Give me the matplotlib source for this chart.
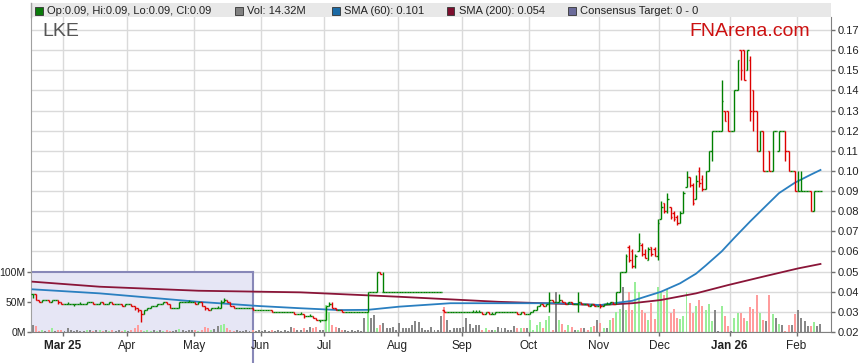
import numpy as np
import matplotlib.pyplot as plt
import matplotlib.transforms as mtransforms
from matplotlib.patches import Rectangle

# ---- data (prices in thousandths of a dollar, volume in millions) ----
opens = [39, 39, 36, 35, 36, 36, 35, 36, 36, 35,
         34, 34, 34, 34, 34, 34, 34, 34, 35, 35,
         34, 34, 35, 34, 34, 35, 34, 34, 34, 33,
         34, 34, 33, 32, 31, 29, 31, 32, 33, 33,
         34, 34, 35, 34, 32, 32, 32, 35, 35, 35,
         35, 35, 34, 35, 33, 32, 31, 32, 32, 32,
         35, 36, 35, 33, 32, 32, 32, 32, 32, 32,
         31, 31, 31, 31, 31, 31, 30, 30, 30, 30,
         30, 30, 30, 29, 29, 29, 28, 28, 28, 27,
         26, 26, 26, 33, 34, 32, 31, 31, 30, 30,
         30, 30, 30, 30, 30, 30, 40, 40, 40, 50,
         40, 40, 40, 40, 40, 40, 40, 40, 40, 40,
         40, 40, 40, 40, 40, 40, 40, 40, 40, 31,
         30, 30, 30, 30, 30, 30, 30, 30, 30, 30,
         30, 30, 29, 30, 29, 29, 30, 30, 30, 30,
         30, 30, 30, 29, 30, 29, 29, 30, 31, 33,
         34, 33, 34, 36, 35, 35, 36, 35, 34, 35,
         34, 34, 35, 34, 34, 33, 34, 33, 34, 33,
         34, 34, 35, 34, 40, 50, 50, 62, 60, 53,
         60, 63, 59, 56, 62, 61, 58, 76, 84, 80,
         82, 79, 77, 74, 79, 92, 97, 93, 86, 100,
         96, 91, 100, 110, 120, 120, 120, 130, 130, 120,
         120, 140, 160, 160, 150, 155, 140, 130, 110, 120,
         100, 110, 100, 120, 110, 120, 120, 110, 100, 100,
         90, 90, 90, 90, 90, 80, 90, 90]
highs = [39, 39, 36, 36, 36, 36, 36, 36, 36, 35,
         34, 35, 34, 34, 34, 35, 34, 35, 35, 35,
         34, 35, 35, 34, 35, 35, 34, 34, 34, 34,
         34, 34, 33, 32, 31, 31, 32, 33, 33, 34,
         34, 35, 35, 34, 32, 32, 35, 35, 35, 36,
         35, 35, 35, 35, 33, 32, 32, 32, 33, 36,
         37, 36, 35, 33, 32, 32, 32, 32, 32, 32,
         31, 31, 31, 31, 31, 31, 30, 30, 30, 30,
         30, 30, 30, 29, 30, 29, 28, 29, 28, 27,
         26, 26, 33, 35, 35, 32, 31, 31, 30, 30,
         30, 30, 30, 30, 30, 40, 40, 40, 50, 50,
         50, 40, 40, 40, 40, 40, 40, 40, 40, 40,
         40, 40, 40, 40, 40, 40, 40, 40, 40, 31,
         30, 30, 30, 30, 30, 30, 30, 30, 31, 31,
         31, 30, 30, 30, 30, 30, 30, 30, 30, 30,
         30, 30, 30, 30, 30, 29, 30, 31, 33, 34,
         34, 34, 40, 36, 35, 39, 36, 35, 35, 35,
         34, 40, 35, 34, 34, 34, 34, 33, 34, 34,
         35, 35, 35, 40, 50, 50, 59, 63, 61, 59,
         69, 64, 61, 62, 62, 62, 76, 85, 84, 89,
         82, 80, 78, 80, 90, 100, 97, 94, 98, 102,
         98, 100, 110, 120, 120, 120, 145, 130, 130, 120,
         140, 155, 160, 160, 160, 157, 140, 130, 120, 120,
         100, 110, 120, 120, 120, 120, 120, 110, 100, 100,
         100, 100, 90, 90, 90, 90, 90, 90]
lows = [37, 36, 35, 35, 36, 35, 35, 36, 34, 34,
        34, 34, 34, 33, 34, 34, 34, 34, 35, 34,
        34, 34, 34, 34, 34, 34, 34, 34, 33, 33,
        34, 33, 31, 30, 25, 29, 31, 32, 33, 33,
        34, 34, 34, 32, 32, 32, 32, 35, 35, 35,
        35, 34, 34, 33, 31, 31, 31, 32, 32, 32,
        35, 35, 33, 32, 32, 32, 32, 32, 32, 31,
        31, 31, 31, 31, 31, 30, 30, 30, 30, 30,
        30, 30, 29, 29, 29, 27, 28, 28, 27, 26,
        25, 26, 26, 33, 32, 31, 31, 30, 30, 30,
        30, 30, 30, 30, 30, 30, 40, 40, 40, 49,
        40, 40, 40, 40, 40, 40, 40, 40, 40, 40,
        40, 40, 40, 40, 40, 40, 40, 40, 40, 30,
        30, 30, 30, 30, 30, 30, 30, 30, 30, 30,
        30, 29, 29, 29, 29, 29, 30, 30, 30, 30,
        30, 30, 29, 29, 29, 29, 29, 30, 31, 33,
        33, 33, 30, 35, 35, 35, 35, 34, 34, 34,
        34, 30, 34, 34, 33, 33, 33, 33, 32, 33,
        34, 34, 34, 34, 40, 50, 50, 55, 52, 52,
        60, 58, 57, 56, 58, 58, 56, 76, 79, 79,
        76, 75, 73, 74, 79, 92, 92, 83, 86, 92,
        90, 91, 100, 105, 120, 120, 120, 125, 120, 120,
        120, 140, 145, 145, 150, 125, 120, 110, 110, 100,
        100, 100, 100, 120, 110, 120, 105, 100, 100, 90,
        90, 90, 90, 90, 80, 80, 90, 90]
closes = [39, 36, 35, 36, 36, 35, 36, 36, 35, 34,
          34, 34, 34, 34, 34, 34, 34, 35, 35, 34,
          34, 35, 34, 34, 35, 34, 34, 34, 33, 34,
          34, 33, 32, 31, 29, 31, 32, 33, 33, 34,
          34, 35, 34, 32, 32, 32, 35, 35, 35, 35,
          35, 34, 35, 33, 32, 31, 32, 32, 32, 35,
          36, 35, 33, 32, 32, 32, 32, 32, 32, 31,
          31, 31, 31, 31, 31, 30, 30, 30, 30, 30,
          30, 30, 29, 29, 29, 28, 28, 28, 27, 26,
          26, 26, 33, 34, 32, 31, 31, 30, 30, 30,
          30, 30, 30, 30, 30, 40, 40, 40, 50, 49,
          40, 40, 40, 40, 40, 40, 40, 40, 40, 40,
          40, 40, 40, 40, 40, 40, 40, 40, 40, 30,
          30, 30, 30, 30, 30, 30, 30, 30, 30, 30,
          30, 29, 30, 29, 29, 30, 30, 30, 30, 30,
          30, 30, 29, 30, 29, 29, 30, 31, 33, 34,
          33, 34, 36, 35, 35, 36, 35, 34, 35, 34,
          34, 35, 34, 34, 33, 34, 33, 33, 33, 34,
          34, 35, 34, 40, 50, 50, 58, 56, 53, 58,
          64, 59, 57, 61, 59, 58, 74, 82, 80, 86,
          77, 76, 74, 79, 89, 97, 93, 84, 95, 94,
          91, 100, 110, 120, 120, 120, 135, 125, 120, 120,
          140, 155, 150, 145, 160, 130, 130, 110, 120, 100,
          100, 100, 120, 120, 120, 120, 110, 100, 100, 90,
          90, 90, 90, 90, 80, 90, 90, 90]
volume = [12, 10, 2, 3, 2, 3, 6, 2, 4, 3,
          2, 6, 3, 2, 3, 2, 2, 3, 4, 2,
          3, 4, 2, 3, 2, 3, 2, 3, 2, 3,
          2, 3, 6, 12, 3, 2, 3, 2, 3, 2,
          4, 2, 3, 2, 2, 3, 5, 3, 2, 3,
          3, 3, 2, 3, 9, 6, 3, 5, 10, 12,
          13, 6, 3, 2, 3, 2, 2, 3, 2, 3,
          2, 3, 2, 3, 2, 3, 2, 3, 2, 3,
          2, 9, 6, 3, 4, 6, 3, 8, 6, 9,
          3, 4, 45, 34, 12, 9, 6, 3, 3, 2,
          3, 2, 3, 2, 23, 34, 23, 29, 6, 12,
          15, 6, 6, 9, 3, 15, 6, 6, 6, 12,
          18, 17, 6, 3, 3, 9, 3, 4, 27, 42,
          20, 3, 6, 6, 6, 9, 23, 13, 6, 12,
          12, 3, 6, 3, 3, 3, 9, 6, 6, 3,
          3, 10, 6, 6, 6, 6, 20, 3, 12, 17,
          6, 20, 27, 3, 67, 20, 14, 3, 12, 9,
          3, 3, 6, 6, 3, 9, 10, 20, 15, 6,
          6, 20, 23, 34, 39, 75, 37, 67, 37, 84,
          67, 37, 32, 20, 48, 21, 75, 67, 62, 71,
          32, 38, 24, 21, 27, 67, 49, 32, 43, 53,
          43, 37, 47, 19, 36, 2, 43, 26, 10, 2,
          23, 31, 31, 23, 19, 41, 39, 62, 31, 20,
          18, 62, 30, 24, 13, 12, 2, 12, 12, 30,
          37, 24, 18, 10, 10, 17, 10, 14]

sma60_at = [0, 21, 52, 71, 84, 96, 105, 115, 131, 146, 165, 178, 188, 197,
            203, 208, 211, 216, 220, 225, 230, 234, 239, 244, 247]
sma60 = [0.0412, 0.0392, 0.0350, 0.0329, 0.0318, 0.0309, 0.0310, 0.0326,
         0.0343, 0.0343, 0.0343, 0.0334, 0.0355, 0.0400, 0.0442, 0.0490,
         0.0530, 0.0600, 0.0668, 0.0750, 0.0828, 0.0890, 0.0942, 0.0982,
         0.1005]
sma200_at = [0, 21, 52, 84, 115, 146, 178, 188, 197, 208, 218, 229, 240, 247]
sma200 = [0.0450, 0.0425, 0.0405, 0.0397, 0.0375, 0.0350, 0.0334, 0.0343,
          0.0359, 0.0392, 0.0433, 0.0475, 0.0516, 0.0538]

month_labels = ['Mar 25', 'Apr', 'May', 'Jun', 'Jul', 'Aug', 'Sep', 'Oct',
                'Nov', 'Dec', 'Jan 26', 'Feb']
month_start = [10, 30, 51, 72, 92, 115, 135, 156, 178, 197, 219, 240]
price_ticks = [0.02, 0.03, 0.04, 0.05, 0.06, 0.07, 0.08, 0.09, 0.10,
               0.11, 0.12, 0.13, 0.14, 0.15, 0.16, 0.17]
legend_items = [('Op:0.09, Hi:0.09, Lo:0.09, Cl:0.09', '#0a7a0a'),
                ('Vol: 14.32M', '#808080'),
                ('SMA (60): 0.101', '#1b6aa5'),
                ('SMA (200): 0.054', '#7d0f2e'),
                ('Consensus Target: 0 - 0', '#6b6b9a')]
consensus_end = 69.1

# ---- figure ----
plt.rcParams['font.family'] = ['Liberation Sans', 'DejaVu Sans']
W, H = 859, 363
fig = plt.figure(figsize=(W / 100, H / 100), dpi=100)


def box(x0, y0, x1, y1):
    return [x0 / W, 1 - y1 / H, (x1 - x0) / W, (y1 - y0) / H]


vax = fig.add_axes(box(31, 17, 831, 332))
pax = vax.twinx()
idx = np.arange(len(closes))
o = np.array(opens) / 1000
h = np.array(highs) / 1000
l = np.array(lows) / 1000
c = np.array(closes) / 1000

vax.set_xlim(-0.5, 250.3)
vax.set_ylim(0, 525)
pax.set_ylim(0.02, 0.1765)

# grid lives on the volume axes so it sits under everything
gtrans = mtransforms.blended_transform_factory(vax.transAxes, pax.transData)
for p in price_ticks:
    vax.plot([0, 1], [p, p], transform=gtrans, color='#dadada', lw=1, zorder=0)
for m in month_start:
    vax.axvline(m - 0.5, color='#dadada', lw=1, zorder=0)

# consensus target box
vax.add_patch(Rectangle((-0.5, 0), consensus_end + 0.5, 100,
                        facecolor='#e6e6f5', edgecolor='none', zorder=1))
vax.plot([-0.5, consensus_end], [100, 100], color='#8888b8', lw=1.5, zorder=1)
vax.plot([consensus_end, consensus_end], [100, -50], color='#8888b8', lw=1.5,
         zorder=1, clip_on=False)

vcol = np.where(c > o, '#99ee99', np.where(c < o, '#ff9c9c', '#888888'))
vax.bar(idx, volume, width=0.62, color=vcol, zorder=2)

# price bars
bcol = np.where(c >= o, '#008000', '#dd0000')
pax.vlines(idx, l, h, colors=bcol, lw=1.0, zorder=3)
pax.hlines(o, idx - 0.5, idx, colors=bcol, lw=1.0, zorder=3)
pax.hlines(c, idx, idx + 0.5, colors=bcol, lw=1.0, zorder=3)

pax.plot(sma200_at, sma200, color='#8a1538', lw=1.3, zorder=2)
pax.plot(sma60_at, sma60, color='#2a7fc0', lw=1.3, zorder=2)

# axes styling
pax.set_yticks(price_ticks)
pax.set_yticklabels(['%.2f' % p for p in price_ticks])
pax.tick_params(axis='y', length=3, width=1, color='#707070', labelsize=8,
                pad=1.5, labelcolor='#222222')
vax.set_yticks([0, 50, 100])
vax.set_yticklabels(['0M', '50M', '100M'])
vax.tick_params(axis='y', length=3, width=1, color='#707070', labelsize=7.5,
                pad=0.8, labelcolor='#222222')
vax.set_xticks([m - 0.5 for m in month_start])
vax.set_xticklabels(month_labels)
vax.tick_params(axis='x', length=3, width=1, color='#707070', labelsize=8.5,
                pad=3, labelcolor='#222222')
for lab in vax.get_xticklabels():
    if ' ' in lab.get_text():
        lab.set_fontweight('bold')

for ax in (vax, pax):
    ax.spines['top'].set_visible(False)
vax.spines['right'].set_visible(False)
pax.spines['left'].set_visible(False)
pax.spines['bottom'].set_visible(False)
vax.spines['left'].set_color('#a0a0a0')
vax.spines['bottom'].set_color('#808080')
pax.spines['right'].set_color('#808080')

# legend strip
fig.add_artist(Rectangle((31 / W, 1 - 17 / H), 800 / W, 14 / H,
                         transform=fig.transFigure, facecolor='#e8e8e8',
                         edgecolor='none'))
fig.add_artist(plt.Line2D([31 / W, 31 / W], [1 - 3 / H, 1 - 17 / H],
                          transform=fig.transFigure, color='#a0a0a0', lw=1))
legend_x = [35, 235, 332, 447, 568]
for (txt, col), x in zip(legend_items, legend_x):
    fig.add_artist(Rectangle((x / W, 1 - 14.5 / H), 7.5 / W, 7.5 / H,
                             transform=fig.transFigure, facecolor=col,
                             edgecolor='#333333', lw=0.6))
    fig.text((x + 12) / W, 1 - 10.5 / H, txt, fontsize=8, color='#222222',
             va='center', ha='left')

fig.text(42 / W, 1 - 32 / H, 'LKE', fontsize=14, color='#555555',
         va='center', ha='left')
fig.text(750 / W, 1 - 32 / H, 'FNArena.com', fontsize=14, color='#cc1111',
         va='center', ha='center')

fig.savefig('out.png', dpi=100)
